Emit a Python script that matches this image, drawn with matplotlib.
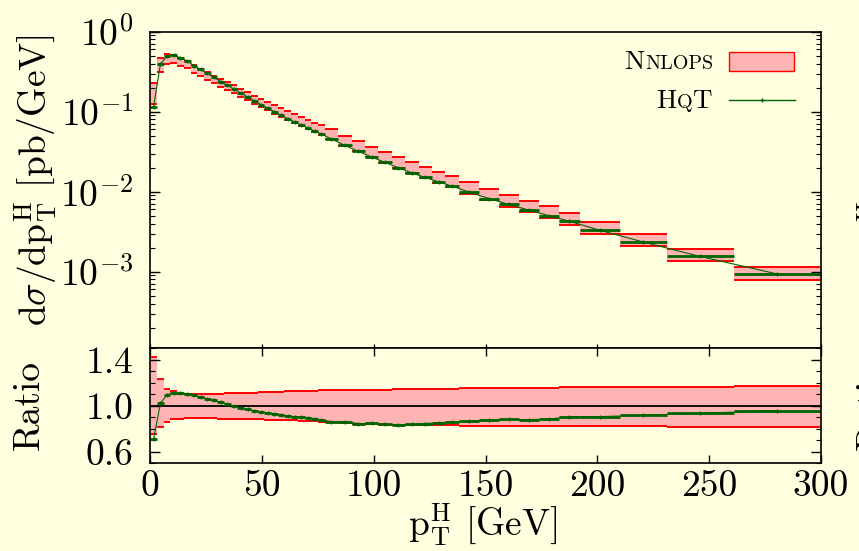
import numpy as np
import matplotlib
matplotlib.use('Agg')
from matplotlib import pyplot as plt
from matplotlib.ticker import FixedLocator, FixedFormatter, LogLocator, MultipleLocator, NullFormatter
from matplotlib.offsetbox import TextArea, HPacker, AnnotationBbox
from matplotlib.lines import Line2D
from matplotlib.patches import Rectangle

plt.rcParams['font.family'] = 'serif'
plt.rcParams['font.serif'] = ['cmr10']
plt.rcParams['mathtext.fontset'] = 'cm'
plt.rcParams['axes.unicode_minus'] = False

# bordes de los bines [GeV]
bordes = [0, 3, 6, 9, 12, 15, 18, 21, 24, 27, 30, 33, 36, 39, 42, 45, 48, 51,
          54, 57, 60, 63, 66, 69, 72, 75, 78, 84, 90, 96, 102, 108, 114, 120,
          126, 132, 138, 147, 156, 165, 174, 183, 192, 210, 231, 261, 300]

# HqT [pb/GeV]
hqt = [0.1161, 0.3914, 0.4969, 0.5070, 0.4718, 0.4302, 0.3780, 0.3369,
       0.3003, 0.2677, 0.2385, 0.2138, 0.1911, 0.1708, 0.1527, 0.1368,
       0.1230, 0.1106, 0.0997, 0.0904, 0.0820, 0.0746, 0.0682, 0.0624,
       0.0572, 0.0526, 0.0456, 0.0380, 0.0320, 0.0272, 0.0232, 0.0199,
       0.0172, 0.01505, 0.01326, 0.01175, 0.00991, 0.00822, 0.00692,
       0.00587, 0.00500, 0.00427, 0.00330, 0.00235, 0.00155, 0.000936]

# HqT / Nnlops
hqt_ratio = [0.712, 1.02, 1.095, 1.11, 1.11, 1.10, 1.09, 1.075, 1.06, 1.045,
             1.03, 1.012, 0.995, 0.98, 0.967, 0.957, 0.947, 0.938, 0.93,
             0.922, 0.912, 0.905, 0.903, 0.896, 0.888, 0.877, 0.862, 0.86,
             0.845, 0.846, 0.838, 0.836, 0.837, 0.845, 0.852, 0.858, 0.864,
             0.874, 0.88, 0.879, 0.884, 0.903, 0.905, 0.916, 0.934, 0.957]

# banda Nnlops relativa al valor central
banda_hi = [1.42, 1.233, 1.144, 1.124, 1.10, 1.10, 1.101, 1.102, 1.103,
            1.104, 1.105, 1.107, 1.108, 1.11, 1.112, 1.114, 1.115, 1.118,
            1.12, 1.121, 1.123, 1.125, 1.126, 1.128, 1.13, 1.132, 1.133,
            1.135, 1.137, 1.138, 1.14, 1.141, 1.143, 1.144, 1.146, 1.148,
            1.15, 1.152, 1.154, 1.155, 1.157, 1.158, 1.16, 1.162, 1.165, 1.167]
banda_lo = [0.756, 0.816, 0.859, 0.882, 0.888, 0.889, 0.889, 0.889, 0.889,
            0.889, 0.888, 0.888, 0.887, 0.886, 0.885, 0.883, 0.881, 0.879,
            0.878, 0.876, 0.874, 0.872, 0.87, 0.868, 0.866, 0.862, 0.856,
            0.846, 0.841, 0.837, 0.834, 0.832, 0.831, 0.83, 0.829, 0.828,
            0.827, 0.826, 0.825, 0.824, 0.823, 0.822, 0.821, 0.82, 0.818, 0.816]

fondo = '#FFFFE0'
rosa = '#FFB4B4'
rojo = '#FF0000'
verde = '#006400'

bordes = np.array(bordes, dtype=float)
centros = (bordes[:-1] + bordes[1:]) / 2
medio = np.diff(bordes) / 2
hqt = np.array(hqt)
hqt_ratio = np.array(hqt_ratio)
banda_hi = np.array(banda_hi)
banda_lo = np.array(banda_lo)
central = hqt / hqt_ratio
arriba = central * banda_hi
abajo = central * banda_lo

W, H = 859, 551
fig = plt.figure(figsize=(W / 100, H / 100), dpi=100, facecolor=fondo)
x0, x1 = 150.3, 821.0
ax = fig.add_axes([x0 / W, 1 - 348 / H, (x1 - x0) / W, (348 - 31.7) / H], facecolor=fondo)
axr = fig.add_axes([x0 / W, 1 - 463.3 / H, (x1 - x0) / W, (463.3 - 348) / H], facecolor=fondo)

# panel principal
ax.fill_between(bordes, np.append(abajo, abajo[-1]), np.append(arriba, arriba[-1]),
                step='post', color=rosa, lw=0)
ax.hlines(arriba, bordes[:-1], bordes[1:], colors=rojo, lw=1.4)
ax.hlines(abajo, bordes[:-1], bordes[1:], colors=rojo, lw=1.4)
ax.errorbar(centros, hqt, xerr=medio, fmt='-', color=verde, lw=0.8,
            elinewidth=2.0, capsize=0, marker='+', ms=3.5, mew=1)
ax.set_xlim(0, 300)
ax.set_yscale('log')
ax.set_ylim(10 ** (-316.3 / 80), 1)
ax.yaxis.set_major_locator(FixedLocator([1e-3, 1e-2, 1e-1, 1]))
ax.yaxis.set_major_formatter(FixedFormatter([r'$10^{-3}$', r'$10^{-2}$',
                                             r'$10^{-1}$', r'$10^{0}$']))
ax.yaxis.set_minor_locator(LogLocator(base=10, subs=np.arange(2, 10), numticks=20))
ax.yaxis.set_minor_formatter(NullFormatter())
ax.set_xticks([0, 50, 100, 150, 200, 250, 300])
ax.tick_params(axis='x', direction='in', bottom=True, top=False,
               labelbottom=False, length=3, width=1)
ax.tick_params(axis='y', which='both', direction='in', left=True, right=True)
ax.tick_params(axis='y', which='major', length=7, width=1, labelsize=27, pad=12)
ax.tick_params(axis='y', which='minor', length=3.6, width=0.8)

# cociente
axr.fill_between(bordes, np.append(banda_lo, banda_lo[-1]),
                 np.append(banda_hi, banda_hi[-1]), step='post', color=rosa, lw=0)
axr.hlines(banda_hi, bordes[:-1], bordes[1:], colors=rojo, lw=1.4)
axr.hlines(banda_lo, bordes[:-1], bordes[1:], colors=rojo, lw=1.4)
axr.axhline(1.0, color='black', lw=1.3)
axr.errorbar(centros, hqt_ratio, xerr=medio, fmt='-', color=verde, lw=0.8,
             elinewidth=2.0, capsize=0, marker='+', ms=3.5, mew=1)
axr.set_xlim(0, 300)
axr.set_ylim(0.5, 1.5)
axr.set_xticks([0, 50, 100, 150, 200, 250, 300])
axr.set_xticklabels(['0', '50', '100', '150', '200', '250', '300'])
axr.set_yticks([0.6, 1.0, 1.4])
axr.set_yticklabels(['0.6', '1.0', '1.4'])
axr.yaxis.set_minor_locator(MultipleLocator(0.1))
axr.tick_params(axis='x', direction='in', top=True, bottom=True, length=5.5,
                width=1, labelsize=27, pad=5)
axr.tick_params(axis='y', which='both', direction='in', left=True, right=True)
axr.tick_params(axis='y', which='major', length=7, width=1, labelsize=27, pad=12)
axr.tick_params(axis='y', which='minor', length=3.6, width=0.8)

for a in (ax, axr):
    for s in a.spines.values():
        s.set_linewidth(1.2)

etiqueta = r'$\mathrm{d}\sigma/\mathrm{dp}_\mathrm{T}^\mathrm{H}$ [pb/GeV]'
fig.text(36 / W, 1 - 180 / H, etiqueta, rotation=90, ha='center', va='center', fontsize=27)
fig.text(29 / W, 1 - 405 / H, 'Ratio', rotation=90, ha='center', va='center', fontsize=27)
fig.text(483 / W, 1 - 524 / H, r'$\mathrm{p}_\mathrm{T}^\mathrm{H}$ [GeV]',
         ha='center', va='center', fontsize=27)
# etiquetas del panel vecino, cortadas por el borde derecho como en el original
fig.text((843 + 36) / W, 1 - 180 / H, etiqueta, rotation=90, ha='center', va='center', fontsize=27)
fig.text((843 + 29) / W, 1 - 405 / H, 'Ratio', rotation=90, ha='center', va='center', fontsize=27)

# leyenda
def versalitas(partes, x, y):
    hijos = [TextArea(t, textprops=dict(fontsize=s, color='black')) for t, s in partes]
    caja = HPacker(children=hijos, align='baseline', pad=0, sep=0)
    ab = AnnotationBbox(caja, (x, y), xycoords='figure pixels', box_alignment=(1, 0.5),
                        frameon=False, pad=0)
    fig.add_artist(ab)

versalitas([('N', 19.5), ('NLOPS', 14.5)], 713, H - 62)
versalitas([('H', 19.5), ('Q', 14.5), ('T', 19.5)], 712, H - 101)
fig.add_artist(Rectangle((729.3 / W, 1 - 71 / H), 65 / W, 19.3 / H, transform=fig.transFigure,
                         facecolor=rosa, edgecolor=rojo, lw=1))
fig.add_artist(Line2D([729 / W, 795 / W], [1 - 100 / H, 1 - 100 / H], transform=fig.transFigure,
                      color=verde, lw=1))
fig.add_artist(Line2D([762 / W], [1 - 100 / H], transform=fig.transFigure, color=verde,
                      marker='+', ms=3.5, mew=1))

fig.savefig('out.png', dpi=100, facecolor=fondo)
